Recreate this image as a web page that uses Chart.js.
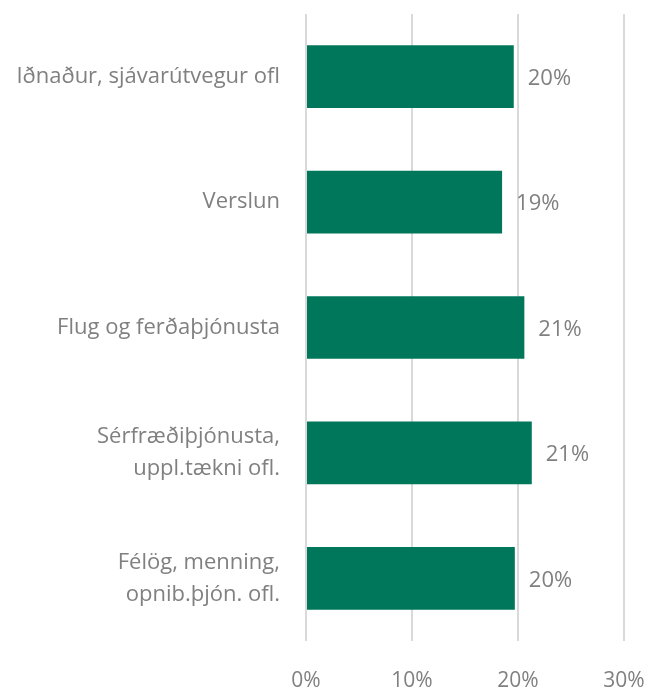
<!DOCTYPE html>
<html>
<head>
<meta charset="utf-8">
<script src="https://cdn.jsdelivr.net/npm/chart.js@4"></script>
<style>
  html, body { margin: 0; padding: 0; background: #fff; }
  #wrap { width: 661px; height: 687px; }
</style>
</head>
<body>
<div id="wrap"><canvas id="grafico" width="661" height="687"></canvas></div>
<script>
const flokkar = [
  'Iðnaður, sjávarútvegur ofl',
  'Verslun',
  'Flug og ferðaþjónusta',
  ['Sérfræðiþjónusta,', 'uppl.tækni ofl.'],
  ['Félög, menning,', 'opnib.þjón. ofl.']
];
const hlutfall = [19.6, 18.5, 20.6, 21.3, 19.7];
const asMerki = [0, 10, 20, 30];

const grar = '#808080';

// prósentutölur aftan við súlurnar
const gildiPlugin = {
  id: 'gildi',
  afterDatasetsDraw(chart) {
    const c = chart.ctx;
    const meta = chart.getDatasetMeta(0);
    c.save();
    c.font = '22px "Open Sans"';
    c.fillStyle = grar;
    c.textAlign = 'left';
    c.textBaseline = 'middle';
    meta.data.forEach((bar, i) => {
      c.fillText(Math.round(hlutfall[i]) + '%', bar.x + 14, bar.y + 2);
    });
    c.restore();
  }
};

const ctx = document.getElementById('grafico').getContext('2d');
new Chart(ctx, {
  type: 'bar',
  data: {
    labels: flokkar,
    datasets: [{
      data: hlutfall,
      backgroundColor: '#00775A',
      categoryPercentage: 0.5,
      barPercentage: 1
    }]
  },
  options: {
    indexAxis: 'y',
    responsive: false,
    animation: false,
    layout: { padding: { top: 14, right: 37, left: 0, bottom: 0 } },
    scales: {
      x: {
        min: 0,
        max: 30,
        afterBuildTicks: (axis) => { axis.ticks = asMerki.map(v => ({ value: v })); },
        afterFit: (axis) => { axis.height = 46; axis.paddingLeft = 0; axis.paddingRight = 0; },
        border: { display: false },
        grid: { color: '#d9d9d9', lineWidth: 2, drawTicks: false },
        ticks: {
          padding: 27,
          color: grar,
          font: { family: 'Open Sans', size: 21 },
          callback: v => v + '%'
        }
      },
      y: {
        afterFit: (axis) => { axis.width = 306; axis.paddingTop = 0; axis.paddingBottom = 0; },
        border: { display: false },
        grid: { display: false, drawTicks: false },
        ticks: {
          padding: 26,
          color: grar,
          font: { family: 'Open Sans', size: 22, lineHeight: 1.45 }
        }
      }
    },
    plugins: {
      legend: { display: false },
      tooltip: { enabled: false }
    }
  },
  plugins: [gildiPlugin]
});
</script>
</body>
</html>
